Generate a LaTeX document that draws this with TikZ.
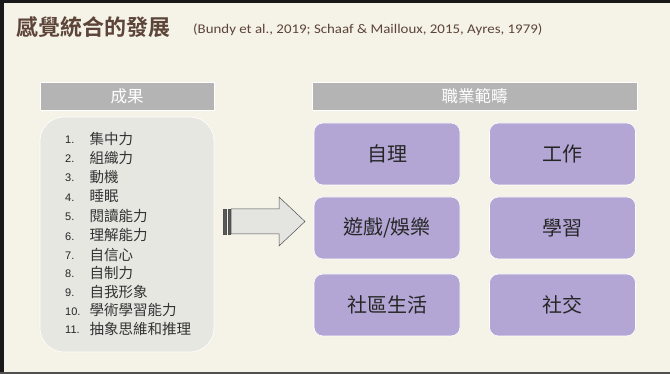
\documentclass[tikz,border=0pt]{standalone}
\usepackage{fontspec}
\usepackage{graphicx}
\setmainfont{Liberation Sans}
\newfontfamily\cjk{Noto Sans CJK TC}
\newfontfamily\cjkb{Noto Sans CJK TC Bold}
\newfontfamily\citefont{Carlito}
\definecolor{bg}{HTML}{F5F2E7}
\definecolor{hdr}{HTML}{B4B4B4}
\definecolor{listbg}{HTML}{E6E7E1}
\definecolor{purp}{HTML}{B3A6D5}
\definecolor{titlec}{HTML}{5C4439}
\definecolor{arrowfill}{HTML}{E4E5E0}
\definecolor{darkline}{HTML}{505050}
\tikzset{
  hdrbox/.style={fill=hdr, draw=white, line width=0.6pt, minimum width=#1, minimum height=28pt, inner sep=0pt, text=white, font=\cjk\fontsize{16.5}{18}\selectfont},
  purpbox/.style={fill=purp, draw=white, line width=0.6pt, rounded corners=9pt, minimum width=146pt, minimum height=62pt, inner sep=0pt, text=black!85, font=\cjk\fontsize{20}{22}\selectfont},
  num/.style={anchor=west, inner sep=0pt, font=\fontsize{11}{12}\selectfont, text=black!85},
  item/.style={anchor=west, inner sep=0pt, font=\cjk\fontsize{14.5}{16}\selectfont, text=black!80},
}
\begin{document}%
\begin{tikzpicture}[x=1pt,y=-1pt]
\useasboundingbox (0,0) rectangle (670,374);
\fill[bg] (0,0) rectangle (670,374);
% frame
\fill[black!90] (0,0) rectangle (670,3);
\fill[black!90] (0,0) rectangle (4,374);
\fill[darkline] (0,371.5) rectangle (670,374);
% title
\node[anchor=base west, inner sep=0pt, text=titlec, font=\cjkb\fontsize{22}{24}\selectfont] (title) at (16,36) {感覺統合的發展};
\node[anchor=base west, inner sep=0pt, text=titlec, font=\citefont\fontsize{13.3}{15}\selectfont] (cite) at (193,34) {\scalebox{1.12}[1]{(Bundy et al., 2019; Schaaf \& Mailloux, 2015, Ayres, 1979)}};
% left headers and list
\node[hdrbox=174pt] (h1) at (127,96) {成果};
\node[fill=listbg, draw=white, line width=0.6pt, rounded corners=24pt, minimum width=174pt, minimum height=235pt, inner sep=0pt] (list) at (127,234.5) {};
\foreach \n/\t/\y in {1/集中力/140, 2/組織力/159, 3/動機/178, 4/睡眠/197.5, 5/閱讀能力/217, 6/理解能力/236.5, 7/自信心/255.5, 8/自制力/274, 9/自我形象/293, 10/學術學習能力/311.5, 11/抽象思維和推理/329.5}{
  \node[num] (n\n) at (65,\y) {\n.};
  \node[item] (i\n) at (89.5,\y-1) {\t};
}
% arrow
\coordinate (atail) at (223,221.5);
\coordinate (atip) at (305,221.5);
\draw[darkline, fill=arrowfill, line width=0.5pt, line join=miter]
  (231,209) -- (279,209) -- (279,197) -- (atip) -- (279,246) -- (279,234) -- (231,234) -- cycle;
\draw[darkline, fill=black!65, line width=0.4pt] (223,209) rectangle (226.3,234);
\draw[darkline, fill=black!65, line width=0.4pt] (228,209) rectangle (230,234);
% right header and boxes
\node[hdrbox=325pt] (h2) at (474.5,96) {職業範疇};
\node[purpbox] (b1) at (387,154) {自理};
\node[purpbox] (b2) at (562.5,154) {工作};
\node[purpbox] (b3) at (387,228) {遊戲/娛樂};
\node[purpbox] (b4) at (562.5,228) {學習};
\node[purpbox] (b5) at (387,305) {社區生活};
\node[purpbox] (b6) at (562.5,305) {社交};
\end{tikzpicture}%
\end{document}
